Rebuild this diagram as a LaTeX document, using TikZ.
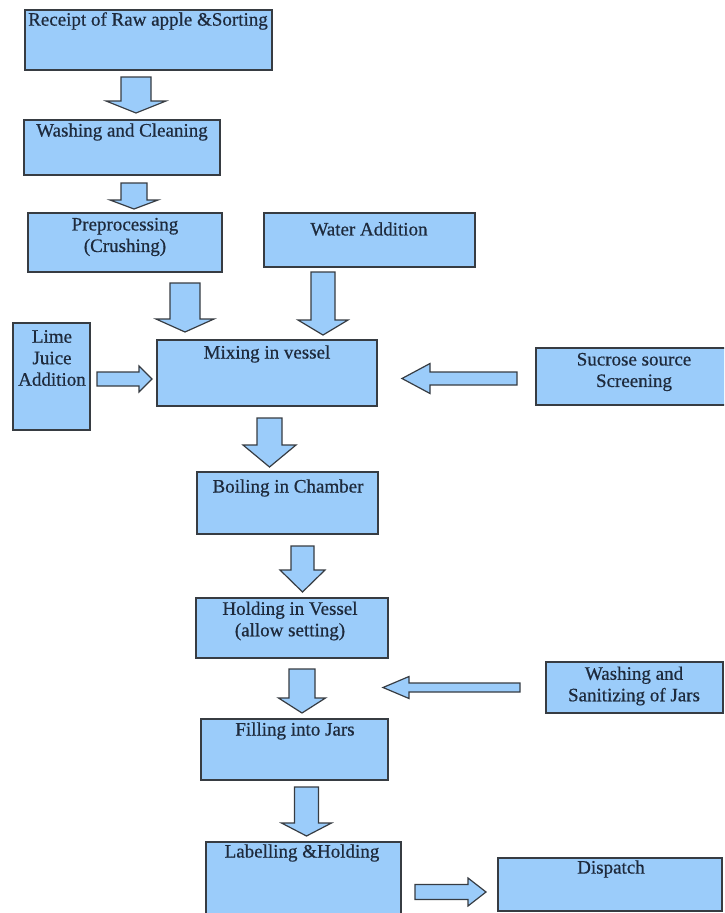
\documentclass[tikz,border=0pt]{standalone}
\usepackage{fontspec}
\setmainfont[FakeBold=0.6]{Liberation Serif}
\definecolor{boxfill}{RGB}{155,204,250}
\definecolor{boxline}{RGB}{55,60,66}
\definecolor{txtcol}{RGB}{30,42,60}
\newcommand\dblk[6]{\draw[barrow] ({#1-#5},#2) -- ({#1+#5},#2) -- ({#1+#5},#3) -- ({#1+#6},#3) -- (#1,#4) -- ({#1-#6},#3) -- ({#1-#5},#3) -- cycle;}
\newcommand\hblk[6]{\draw[barrow] (#2,{#1-#5}) -- (#2,{#1+#5}) -- (#3,{#1+#5}) -- (#3,{#1+#6}) -- (#4,#1) -- (#3,{#1-#6}) -- (#3,{#1-#5}) -- cycle;}
\begin{document}
\begin{tikzpicture}[x=1pt,y=-1pt,
  box/.style={draw=boxline, fill=boxfill, line width=1.3pt, anchor=north west, inner sep=0pt, outer sep=0pt},
  barrow/.style={draw=boxline, fill=boxfill, line width=1.2pt, line join=miter},
  txt/.style={font=\fontsize{19}{21.5}\selectfont, text=txtcol, align=center, inner sep=0pt}]
\useasboundingbox (0,0) rectangle (724,913);
\clip (0,0) rectangle (724,913);
% boxes
\node[box, minimum width=247, minimum height=60] (receipt) at (25,10) {};
\node[box, minimum width=196, minimum height=55] (wash) at (24,120) {};
\node[box, minimum width=194, minimum height=59] (prep) at (28,213) {};
\node[box, minimum width=211, minimum height=54] (water) at (264,213) {};
\node[box, minimum width=77, minimum height=107] (lime) at (13,323) {};
\node[box, minimum width=220, minimum height=66] (mix) at (157,340) {};
\node[box, minimum width=192, minimum height=57] (sucrose) at (536,348) {};
\node[box, minimum width=181, minimum height=62] (boil) at (197,472) {};
\node[box, minimum width=192, minimum height=60] (hold) at (196,598) {};
\node[box, minimum width=177, minimum height=51] (jars) at (546,662) {};
\node[box, minimum width=187, minimum height=61] (fill) at (201,719) {};
\node[box, minimum width=195, minimum height=80] (label) at (206,842) {};
\node[box, minimum width=224, minimum height=53] (dispatch) at (498,858) {};
% texts
\node[txt] (receipt-t) at (148,21) {Receipt of Raw apple \&Sorting};
\node[txt] (wash-t) at (122,132) {Washing and Cleaning};
\node[txt] (prep-t) at (125,237) {Preprocessing\\(Crushing)};
\node[txt] (water-t) at (369,229) {Water Addition};
\node[txt] (lime-t) at (52,358) {Lime\\Juice\\Addition};
\node[txt] (mix-t) at (267,354) {Mixing in vessel};
\node[txt] (sucrose-t) at (634,372) {Sucrose source\\Screening};
\node[txt] (boil-t) at (288,488) {Boiling in Chamber};
\node[txt] (hold-t) at (290,621) {Holding in Vessel\\(allow setting)};
\node[txt] (jars-t) at (634,686) {Washing and\\Sanitizing of Jars};
\node[txt] (fill-t) at (295,731) {Filling into Jars};
\node[txt] (label-t) at (302,853) {Labelling \&Holding};
\node[txt] (dispatch-t) at (611,869) {Dispatch};
% block arrows
\dblk{136}{77}{101}{113}{15}{30}
\dblk{134}{183}{200}{209}{13}{24}
\dblk{185}{283}{319}{332}{15}{29}
\dblk{323}{272}{320}{335}{12}{25}
\hblk{379}{97}{139}{152}{7}{13}
\hblk{378.5}{517}{430}{402}{6.5}{15}
\dblk{269.5}{418}{445}{467}{12.5}{26.5}
\dblk{302.5}{546}{570}{592}{11.5}{22.5}
\dblk{302}{669}{698}{713}{13}{23.5}
\hblk{687.5}{520}{409}{383}{4.5}{11}
\dblk{306.5}{787}{823}{836}{12}{25}
\hblk{892}{415}{468}{486}{7.5}{14}
\end{tikzpicture}
\end{document}
